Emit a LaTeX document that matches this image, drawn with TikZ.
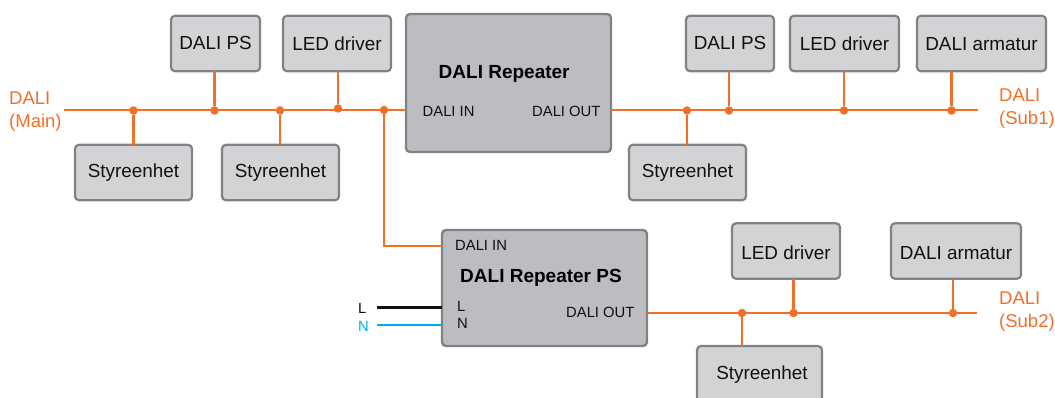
\documentclass[tikz,border=0pt]{standalone}
\usepackage{fontspec}
\setmainfont{Liberation Sans}
\definecolor{wire}{HTML}{F36F26}
\definecolor{boxfill}{HTML}{D1D3D4}
\definecolor{repfill}{HTML}{BCBDC0}
\definecolor{boxline}{HTML}{808285}
\definecolor{nblue}{HTML}{00AEEF}
\definecolor{lblack}{HTML}{111111}
\tikzset{
  unit/.style={draw=boxline,fill=boxfill,line width=2.2pt,rounded corners=4pt,inner sep=0pt,outer sep=0pt,
    font=\fontsize{18.9}{22}\selectfont,text=lblack,text height=12pt,text depth=0pt,minimum height=55.5pt},
  repbox/.style={draw=boxline,fill=repfill,line width=2.4pt,rounded corners=4pt,inner sep=0pt,outer sep=0pt},
  wireline/.style={draw=wire,line width=2.3pt},
  jn/.style={circle,fill=wire,inner sep=0pt,outer sep=0pt,minimum size=8.5pt},
  small/.style={anchor=base west,inner sep=0pt,font=\fontsize{14.8}{17}\selectfont,text=lblack},
  title/.style={anchor=base west,inner sep=0pt,font=\fontsize{19}{22}\selectfont\bfseries,text=black},
  buslabel/.style={anchor=base west,inner sep=0pt,font=\fontsize{18.5}{22}\selectfont,text=wire},
}
\begin{document}
\begin{tikzpicture}[x=1pt,y=-1pt]
\useasboundingbox (0,0) rectangle (1055,398);
\clip (0,0) rectangle (1055,398);
% boxes
\node[unit,minimum width=89pt] (psA) at (215.5,43.5) {DALI PS};
\node[unit,minimum width=108pt,text height=15pt] (ledA) at (337,43.5) {LED driver};
\node[unit,minimum width=117pt,text height=10.5pt] (stA) at (133.5,172.5) {Styreenhet};
\node[unit,minimum width=117pt,text height=10.5pt] (stB) at (280.5,172.5) {Styreenhet};
\node[repbox,minimum width=205pt,minimum height=138pt] (rep) at (508.5,83) {};
\node[unit,minimum width=88pt] (psB) at (730,43.5) {DALI PS};
\node[unit,minimum width=109pt,text height=15pt] (ledB) at (844.5,43.5) {LED driver};
\node[unit,minimum width=129pt,text height=15pt] (armB) at (981.5,43.5) {DALI armatur};
\node[unit,minimum width=117pt,text height=10.5pt] (stC) at (687.5,172.5) {Styreenhet};
\node[repbox,minimum width=205pt,minimum height=116pt] (repps) at (544.5,288) {};
\node[unit,minimum width=108pt,text height=17pt] (ledC) at (786,251) {LED driver};
\node[unit,minimum width=130pt,text height=17pt] (armC) at (956,251) {DALI armatur};
\node[unit,minimum width=125pt,minimum height=56pt,text height=10pt] (stD) at (759.5,374) {\hspace{5pt}Styreenhet};
% bus ends and junctions
\coordinate (mainL) at (64,110);
\coordinate (sub1R) at (978,110);
\coordinate (sub2R) at (977,313);
\coordinate (lEnd) at (377,307.5);
\coordinate (nEnd) at (377,325);
\coordinate (branch) at (384,246);
\node[jn] (j1) at (133.5,110.5) {};
\node[jn] (j2) at (214.5,110.5) {};
\node[jn] (j3) at (280,110.5) {};
\node[jn] (j4) at (338,108.5) {};
\node[jn] (j5) at (384,110) {};
\node[jn] (j6) at (687,110.5) {};
\node[jn] (j7) at (729,110.5) {};
\node[jn] (j8) at (844,110.5) {};
\node[jn] (j9) at (951.5,110.5) {};
\node[jn] (j10) at (742,313) {};
\node[jn] (j11) at (793.5,313) {};
\node[jn] (j12) at (953,313) {};
% connectors
\draw[wireline] (mainL) -- (mainL -| rep.west);
\draw[wireline] (sub1R -| rep.east) -- (sub1R);
\draw[wireline] (sub2R -| repps.east) -- (sub2R);
\draw[wireline] (j1) -- (j1 |- stA.north);
\draw[wireline] (j2) -- (j2 |- psA.south);
\draw[wireline] (j3) -- (j3 |- stB.north);
\draw[wireline] (j4) -- (j4 |- ledA.south);
\draw[wireline] (j6) -- (j6 |- stC.north);
\draw[wireline] (j7) -- (j7 |- psB.south);
\draw[wireline] (j8) -- (j8 |- ledB.south);
\draw[wireline] (j9) -- (j9 |- armB.south);
\draw[wireline] (j10) -- (j10 |- stD.north);
\draw[wireline] (j11) -- (j11 |- ledC.south);
\draw[wireline] (j12) -- (j12 |- armC.south);
\draw[wireline] (j5) -- (branch) -- (branch -| repps.west);
\draw[draw=lblack,line width=2.3pt] (lEnd) -- (lEnd -| repps.west);
\draw[draw=nblue,line width=2.3pt] (nEnd) -- (nEnd -| repps.west);
% labels
\node[buslabel] (lbMa) at (9,105) {DALI};
\node[buslabel] (lbMb) at (9,128) {(Main)};
\node[buslabel] (lbSa) at (999,102) {DALI};
\node[buslabel] (lbSb) at (999,125) {(Sub1)};
\node[buslabel] (lbTa) at (999,304) {DALI};
\node[buslabel] (lbTb) at (999,327) {(Sub2)};
\node[title] (tA) at (438.5,79) {DALI Repeater};
\node[small] (inA) at (422.5,117) {DALI IN};
\node[small] (outA) at (532,117) {DALI OUT};
\node[title] (tB) at (460,283) {DALI Repeater PS};
\node[small] (inB) at (455,251) {DALI IN};
\node[small] (outB) at (566,317) {DALI OUT};
\node[small] (lIn) at (457,311) {L};
\node[small] (nIn) at (457,328) {N};
\node[small] (lOut) at (358,313) {L};
\node[small,text=nblue] (nOut) at (358,331) {N};
\end{tikzpicture}
\end{document}
